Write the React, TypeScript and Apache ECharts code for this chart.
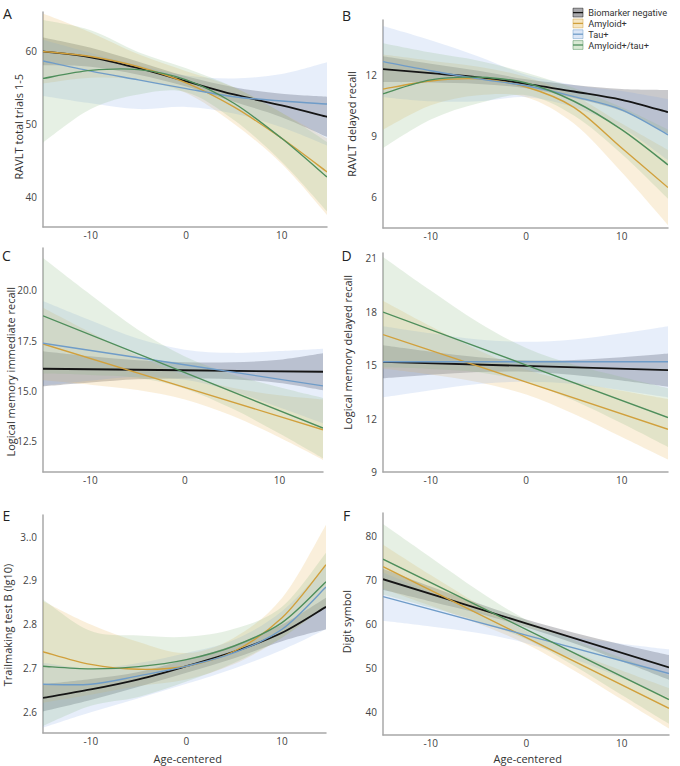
import React, { useEffect, useRef } from "react";
import * as echarts from "echarts";

// ---------- labels ----------
const GROUPS = ["Biomarker negative", "Amyloid+", "Tau+", "Amyloid+/tau+"];
const LINE_COLORS = ["#151515", "#d1a03c", "#6f9cc8", "#4e8e5b"];
const LINE_WIDTHS = [1.8, 1.4, 1.4, 1.4];
const BAND_COLORS = [
  "rgba(40,40,50,0.25)",
  "rgba(230,180,90,0.22)",
  "rgba(120,160,230,0.18)",
  "rgba(140,185,130,0.22)",
];
const LEGEND_FILLS = ["#a9a9ad", "#f5e6c3", "#dbe6f6", "#d9e9d4"];

const PANEL_LETTERS = ["A", "B", "C", "D", "E", "F"];
const Y_TITLES = [
  "RAVLT total trials 1-5",
  "RAVLT delayed recall",
  "Logical memory immediate recall",
  "Logical memory delayed recall",
  "Trailmaking test B (lg10)",
  "Digit symbol",
];
const X_TITLE = "Age-centered";
const X_TICKS = [-10, 0, 10];

// ---------- tick values ----------
const Y_TICKS_A = [40, 50, 60];
const Y_TICKS_B = [6, 9, 12];
const Y_TICKS_C = [12.5, 15.0, 17.5, 20.0];
const Y_TICKS_D = [9, 12, 15, 18, 21];
const Y_TICKS_E = [2.6, 2.7, 2.8, 2.9, 3.0];
const Y_TICK_LABELS_E = ["2.6", "2.7", "2.8", "2.9", "3..0"];
const Y_TICKS_F = [40, 50, 60, 70, 80];

// ---------- data (order: negative, amyloid+, tau+, amyloid+/tau+) ----------
// Panel A
const AGES_A = [-15, -10, -5, 0, 5, 10, 14.75];
const A_FIT = [
  [59.9, 59.1, 57.6, 55.8, 54.0, 52.5, 50.95],
  [59.9, 59.2, 57.8, 55.6, 52.3, 48.0, 43.4],
  [58.6, 57.2, 56.0, 54.8, 53.7, 53.1, 52.7],
  [56.2, 57.3, 57.4, 56.0, 52.8, 48.0, 42.7],
];
const A_LO = [
  [58.0, 57.8, 56.7, 55.1, 53.0, 50.9, 48.2],
  [55.5, 56.3, 56.0, 54.2, 50.0, 44.5, 37.5],
  [53.8, 52.8, 52.0, 52.3, 51.4, 49.5, 47.0],
  [47.4, 52.0, 54.0, 54.3, 50.5, 44.8, 38.0],
];
const A_HI = [
  [61.8, 60.4, 58.5, 56.5, 55.0, 54.1, 53.7],
  [65.1, 62.5, 59.5, 57.2, 55.0, 51.5, 48.0],
  [61.5, 59.7, 58.0, 56.6, 56.2, 56.8, 58.4],
  [64.2, 62.8, 59.8, 57.6, 55.0, 51.5, 47.5],
];

// Panel B
const AGES_B = [-15, -10, -5, 0, 5, 10, 14.85];
const B_FIT = [
  [12.28, 12.08, 11.88, 11.56, 11.18, 10.77, 10.16],
  [11.3, 11.7, 11.8, 11.4, 10.4, 8.4, 6.45],
  [12.65, 12.2, 11.8, 11.46, 10.93, 10.28, 9.05],
  [11.07, 11.75, 11.88, 11.6, 10.7, 9.3, 7.57],
];
const B_LO = [
  [11.65, 11.62, 11.55, 11.34, 10.86, 10.22, 9.1],
  [9.3, 10.5, 11.0, 10.9, 9.6, 7.2, 4.6],
  [10.9, 10.7, 10.7, 10.9, 10.4, 9.4, 7.8],
  [8.4, 9.8, 10.6, 11.0, 10.0, 8.1, 5.9],
];
const B_HI = [
  [12.92, 12.55, 12.2, 11.78, 11.5, 11.3, 11.25],
  [13.0, 12.7, 12.4, 11.9, 11.0, 9.6, 8.3],
  [14.4, 13.7, 12.9, 12.0, 11.5, 11.2, 10.8],
  [13.56, 13.1, 12.7, 12.1, 11.35, 10.4, 9.3],
];

// Panel C
const FIT_AGES_C = [-15, 14.6];
const AGES_C = [-15, -10, -5, 0, 5, 10, 14.6];
const C_FIT = [
  [16.1, 15.95],
  [17.33, 13.07],
  [17.37, 15.25],
  [18.73, 13.15],
];
const C_LO = [
  [15.23, 15.42, 15.58, 15.62, 15.58, 15.39, 15.03],
  [15.53, 15.31, 15.04, 14.57, 13.76, 12.68, 11.57],
  [15.27, 15.51, 15.7, 15.55, 14.99, 14.18, 13.4],
  [15.86, 15.79, 15.65, 15.11, 14.12, 12.88, 11.65],
];
const C_HI = [
  [16.97, 16.72, 16.52, 16.42, 16.42, 16.55, 16.87],
  [19.13, 17.91, 16.74, 15.77, 15.16, 14.78, 14.57],
  [19.47, 18.51, 17.6, 17.05, 16.89, 16.98, 17.1],
  [21.6, 19.79, 18.05, 16.71, 15.82, 15.18, 14.65],
];

// Panel D
const FIT_AGES_D = [-15, 14.85];
const AGES_D = [-15, -10, -5, 0, 5, 10, 14.85];
const D_FIT = [
  [15.19, 14.72],
  [16.72, 11.4],
  [15.19, 15.19],
  [17.98, 12.06],
];
const D_LO = [
  [14.26, 14.46, 14.61, 14.63, 14.45, 14.14, 13.79],
  [14.82, 14.48, 14.04, 13.35, 12.26, 10.97, 9.7],
  [13.19, 13.59, 13.94, 14.07, 13.94, 13.59, 13.19],
  [14.88, 14.79, 14.6, 14.06, 13.02, 11.74, 10.41],
];
const D_HI = [
  [16.12, 15.76, 15.45, 15.27, 15.29, 15.44, 15.65],
  [18.62, 17.18, 15.84, 14.75, 14.06, 13.57, 13.1],
  [17.19, 16.79, 16.44, 16.31, 16.44, 16.79, 17.19],
  [21.08, 19.19, 17.4, 15.96, 15.02, 14.34, 13.71],
];

// Panel E
const AGES_E = [-15, -10, -5, 0, 5, 10, 14.6];
const E_FIT = [
  [2.633, 2.652, 2.675, 2.705, 2.738, 2.781, 2.84],
  [2.738, 2.709, 2.698, 2.705, 2.739, 2.815, 2.936],
  [2.664, 2.664, 2.683, 2.705, 2.736, 2.789, 2.885],
  [2.705, 2.699, 2.704, 2.72, 2.751, 2.804, 2.897],
];
const E_LO = [
  [2.602, 2.628, 2.658, 2.69, 2.723, 2.762, 2.789],
  [2.622, 2.64, 2.66, 2.675, 2.71, 2.77, 2.842],
  [2.565, 2.6, 2.632, 2.665, 2.7, 2.742, 2.789],
  [2.569, 2.615, 2.635, 2.67, 2.713, 2.77, 2.842],
];
const E_HI = [
  [2.664, 2.676, 2.692, 2.72, 2.753, 2.8, 2.861],
  [2.853, 2.8, 2.76, 2.735, 2.77, 2.86, 3.027],
  [2.713, 2.7, 2.712, 2.735, 2.765, 2.83, 2.933],
  [2.857, 2.785, 2.775, 2.772, 2.79, 2.84, 2.963],
];

// Panel F
const FIT_AGES_F = [-15, 14.95];
const AGES_F = [-15, -10, -5, 0, 5, 10, 14.95];
const F_FIT = [
  [70.25, 50.2],
  [73.1, 40.9],
  [66.3, 48.8],
  [74.8, 42.9],
];
const F_LO = [
  [67.85, 65.2, 62.5, 59.3, 55.7, 51.6, 47.4],
  [68.1, 64.2, 60.15, 55.5, 49.5, 42.9, 36.3],
  [60.8, 59.5, 58.0, 55.7, 52.1, 47.8, 43.3],
  [66.8, 63.8, 60.65, 56.6, 50.6, 43.95, 37.4],
];
const F_HI = [
  [72.65, 68.6, 64.7, 61.1, 58.1, 55.4, 53.0],
  [78.1, 71.2, 64.55, 58.5, 53.7, 49.5, 45.5],
  [71.8, 67.3, 63.0, 59.3, 57.1, 55.6, 54.3],
  [82.8, 75.2, 67.65, 61.0, 56.4, 52.35, 48.4],
];

const FONT = "'Open Sans', 'Noto Sans', sans-serif";
const LEGEND_FONT = "Roboto, 'Open Sans', sans-serif";

type Panel = {
  grid: { left: number; top: number; width: number; height: number };
  xMin: number;
  xMax: number;
  yMin: number;
  yMax: number;
  yTicks: number[];
  yFmt: (v: number) => string;
  fitAges: number[];
  bandAges: number[];
  fit: number[][];
  lo: number[][];
  hi: number[][];
  letterPos: [number, number];
  titlePos: [number, number];
  xTitlePos?: [number, number];
};

const plain = (v: number) => String(v);
const oneDec = (v: number) => v.toFixed(1);
const eLabel = (v: number) => {
  const i = Y_TICKS_E.findIndex((t) => Math.abs(t - v) < 1e-6);
  return i >= 0 ? Y_TICK_LABELS_E[i] : "";
};

const PANELS: Panel[] = [
  {
    grid: { left: 43, top: 12, width: 284, height: 215 },
    xMin: -15, xMax: 14.75, yMin: 35.85, yMax: 65.3,
    yTicks: Y_TICKS_A, yFmt: plain,
    fitAges: AGES_A, bandAges: AGES_A, fit: A_FIT, lo: A_LO, hi: A_HI,
    letterPos: [7.5, 13.5], titlePos: [18.3, 126.7],
  },
  {
    grid: { left: 383, top: 20, width: 285, height: 208 },
    xMin: -15, xMax: 14.85, yMin: 4.46, yMax: 14.7,
    yTicks: Y_TICKS_B, yFmt: plain,
    fitAges: AGES_B, bandAges: AGES_B, fit: B_FIT, lo: B_LO, hi: B_HI,
    letterPos: [346.5, 15], titlePos: [351.7, 124],
  },
  {
    grid: { left: 43, top: 248, width: 280, height: 224 },
    xMin: -15, xMax: 14.6, yMin: 10.97, yMax: 22.1,
    yTicks: Y_TICKS_C, yFmt: oneDec,
    fitAges: FIT_AGES_C, bandAges: AGES_C, fit: C_FIT, lo: C_LO, hi: C_HI,
    letterPos: [6.5, 255], titlePos: [10, 371.7],
  },
  {
    grid: { left: 383, top: 253, width: 285, height: 219 },
    xMin: -15, xMax: 14.85, yMin: 9, yMax: 21.3,
    yTicks: Y_TICKS_D, yFmt: plain,
    fitAges: FIT_AGES_D, bandAges: AGES_D, fit: D_FIT, lo: D_LO, hi: D_HI,
    letterPos: [346.5, 255], titlePos: [347.3, 352.3],
  },
  {
    grid: { left: 43, top: 515, width: 283, height: 218 },
    xMin: -15, xMax: 14.6, yMin: 2.553, yMax: 3.049,
    yTicks: Y_TICKS_E, yFmt: eLabel,
    fitAges: AGES_E, bandAges: AGES_E, fit: E_FIT, lo: E_LO, hi: E_HI,
    letterPos: [6.5, 515], titlePos: [7, 625], xTitlePos: [187.7, 758.3],
  },
  {
    grid: { left: 383, top: 513, width: 286, height: 222 },
    xMin: -15, xMax: 14.95, yMin: 34.83, yMax: 85.3,
    yTicks: Y_TICKS_F, yFmt: plain,
    fitAges: FIT_AGES_F, bandAges: AGES_F, fit: F_FIT, lo: F_LO, hi: F_HI,
    letterPos: [346.5, 515], titlePos: [346, 621.7], xTitlePos: [527.7, 758.3],
  },
];

// Catmull-Rom style cubic segments through canvas points (rendering only)
function curveSegs(p: number[][]): string {
  let s = "";
  for (let i = 0; i < p.length - 1; i++) {
    const p0 = p[i - 1] || p[i];
    const p1 = p[i];
    const p2 = p[i + 1];
    const p3 = p[i + 2] || p[i + 1];
    const c1x = p1[0] + (p2[0] - p0[0]) / 6;
    const c1y = p1[1] + (p2[1] - p0[1]) / 6;
    const c2x = p2[0] - (p3[0] - p1[0]) / 6;
    const c2y = p2[1] - (p3[1] - p1[1]) / 6;
    s += `C${c1x},${c1y} ${c2x},${c2y} ${p2[0]},${p2[1]}`;
  }
  return s;
}

function bandPath(upper: number[][], lower: number[][]): string {
  const rev = lower.slice().reverse();
  let d = `M${upper[0][0]},${upper[0][1]}`;
  d += curveSegs(upper);
  d += `L${rev[0][0]},${rev[0][1]}`;
  d += curveSegs(rev);
  d += "Z";
  return d;
}

function linePath(pts: number[][]): string {
  return `M${pts[0][0]},${pts[0][1]}` + curveSegs(pts);
}

function buildOption() {
  const grid: any[] = [];
  const xAxis: any[] = [];
  const yAxis: any[] = [];
  const series: any[] = [];
  const graphic: any[] = [];

  const axisLine = { show: true, onZero: false, lineStyle: { color: "#a8a8a8", width: 1.5 } };

  PANELS.forEach((p, k) => {
    grid.push({ ...p.grid, containLabel: false });
    xAxis.push({
      type: "value",
      gridIndex: k,
      min: p.xMin,
      max: p.xMax,
      axisLine,
      axisTick: { show: false },
      splitLine: { show: false },
      axisLabel: {
        customValues: X_TICKS,
        fontSize: 10,
        color: "#444",
        margin: 3,
        fontFamily: FONT,
        formatter: (v: number) => (X_TICKS.some((t) => Math.abs(t - v) < 1e-6) ? String(v) : ""),
      },
    });
    yAxis.push({
      type: "value",
      gridIndex: k,
      min: p.yMin,
      max: p.yMax,
      axisLine,
      axisTick: { show: false },
      splitLine: { show: false },
      axisLabel: {
        customValues: p.yTicks,
        fontSize: 10,
        color: "#444",
        margin: 6,
        fontFamily: FONT,
        formatter: (v: number) => (p.yTicks.some((t) => Math.abs(t - v) < 1e-6) ? p.yFmt(v) : ""),
      },
    });

    // confidence bands
    for (let g = 0; g < 4; g++) {
      const lo = p.lo[g];
      const hi = p.hi[g];
      const ages = p.bandAges;
      series.push({
        type: "custom",
        name: GROUPS[g] + " band",
        xAxisIndex: k,
        yAxisIndex: k,
        clip: true,
        silent: true,
        z: 1,
        data: ages.map((a, i) => [a, lo[i], hi[i]]),
        encode: { x: 0, y: [1, 2] },
        renderItem: (params: any, api: any) => {
          if (params.dataIndex !== 0) return null;
          const upper = ages.map((a, i) => api.coord([a, hi[i]]));
          const lower = ages.map((a, i) => api.coord([a, lo[i]]));
          return {
            type: "path",
            shape: { pathData: bandPath(upper, lower) },
            style: { fill: BAND_COLORS[g], stroke: null },
          };
        },
      });
    }
    // fitted lines
    for (let g = 0; g < 4; g++) {
      const ages = p.fitAges;
      const vals = p.fit[g];
      series.push({
        type: "custom",
        name: GROUPS[g],
        xAxisIndex: k,
        yAxisIndex: k,
        clip: true,
        silent: true,
        z: 3,
        data: ages.map((a, i) => [a, vals[i]]),
        encode: { x: 0, y: 1 },
        renderItem: (params: any, api: any) => {
          if (params.dataIndex !== 0) return null;
          const pts = ages.map((a, i) => api.coord([a, vals[i]]));
          return {
            type: "path",
            shape: { pathData: linePath(pts) },
            style: { fill: null, stroke: LINE_COLORS[g], lineWidth: LINE_WIDTHS[g] },
          };
        },
      });
    }

    graphic.push({
      type: "text",
      x: p.letterPos[0],
      y: p.letterPos[1],
      style: {
        text: PANEL_LETTERS[k],
        font: `14px ${FONT}`,
        fill: "#222",
        textAlign: "center",
        textVerticalAlign: "middle",
      },
    });
    graphic.push({
      type: "text",
      x: p.titlePos[0],
      y: p.titlePos[1],
      rotation: Math.PI / 2,
      style: {
        text: Y_TITLES[k],
        font: `11px ${FONT}`,
        fill: "#333",
        textAlign: "center",
        textVerticalAlign: "middle",
      },
    });
    if (p.xTitlePos) {
      graphic.push({
        type: "text",
        x: p.xTitlePos[0],
        y: p.xTitlePos[1],
        style: {
          text: X_TITLE,
          font: `11px ${FONT}`,
          fill: "#333",
          textAlign: "center",
          textVerticalAlign: "middle",
        },
      });
    }
  });

  // legend (top right of panel B)
  const legendX = 573;
  const legendY0 = 12.6;
  const legendStep = 10.8;
  GROUPS.forEach((name, g) => {
    const cy = legendY0 + g * legendStep;
    graphic.push({
      type: "rect",
      shape: { x: legendX, y: cy - 4.4, width: 10, height: 8.8 },
      style: { fill: LEGEND_FILLS[g], stroke: LINE_COLORS[g], lineWidth: 0.5 },
    });
    graphic.push({
      type: "line",
      shape: { x1: legendX, y1: cy, x2: legendX + 10, y2: cy },
      style: { stroke: LINE_COLORS[g], lineWidth: 1.3 },
    });
    graphic.push({
      type: "text",
      x: legendX + 15.3,
      y: cy,
      style: {
        text: name,
        font: `9.2px ${LEGEND_FONT}`,
        lineHeight: 10,
        fill: "#333",
        textAlign: "left",
        textVerticalAlign: "middle",
      },
    });
  });

  return {
    animation: false,
    backgroundColor: "#ffffff",
    grid,
    xAxis,
    yAxis,
    series,
    graphic,
  };
}

export default function App() {
  const ref = useRef<HTMLDivElement>(null);
  useEffect(() => {
    if (!ref.current) return;
    const chart = echarts.init(ref.current, null, { renderer: "svg" });
    chart.setOption(buildOption());
    return () => chart.dispose();
  }, []);
  return (
    <div
      ref={ref}
      style={{ position: "absolute", left: 0, top: 0, width: 680, height: 766, background: "#fff" }}
    />
  );
}
